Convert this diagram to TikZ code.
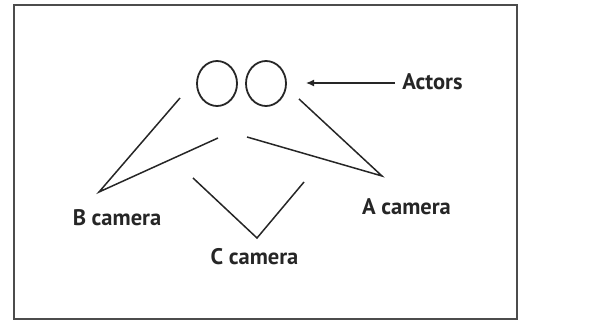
\documentclass[tikz,border=0pt]{standalone}
\usepackage{fontspec}
\setmainfont{PT Sans}
\usetikzlibrary{arrows.meta,shapes.geometric}
\begin{document}
\begin{tikzpicture}[x=1pt,y=-1pt,
  lbl/.style={font=\bfseries\fontsize{22.5}{24}\selectfont, text=black!85, inner sep=0pt},
  shot/.style={line width=1.5pt, black!85},
  actor/.style={draw=black!85, line width=1.8pt, ellipse, minimum width=40pt, minimum height=45pt, inner sep=0pt}]
\useasboundingbox (0,0) rectangle (591,320);
\draw[black!70, line width=2pt] (14,5) rectangle (517,318.5);
\node[actor] (a1) at (217,83.5) {};
\node[actor] (a2) at (266,83.5) {};
\node[lbl] (actors) at (432.5,82) {Actors};
\coordinate (tip) at (306,83);
\coordinate (tail) at (395,83);
\draw[shot, line width=1.3pt, -{Latex[length=8pt,width=7pt]}] (tail) -- (tip);
% B camera
\coordinate (b) at (99,192);
\coordinate (b1) at (180,98);
\coordinate (b2) at (218,138);
\draw[shot] (b1) -- (b) -- (b2);
\node[lbl] (bcam) at (117,218) {B camera};
% A camera
\coordinate (a) at (382,176);
\coordinate (aa1) at (299,99);
\coordinate (aa2) at (247,137);
\draw[shot] (aa1) -- (a) -- (aa2);
\node[lbl] (acam) at (406.5,207) {A camera};
% C camera
\coordinate (c) at (257,238);
\coordinate (c1) at (193,178);
\coordinate (c2) at (304,182);
\draw[shot] (c1) -- (c) -- (c2);
\node[lbl] (ccam) at (254.5,257) {C camera};
\end{tikzpicture}
\end{document}
